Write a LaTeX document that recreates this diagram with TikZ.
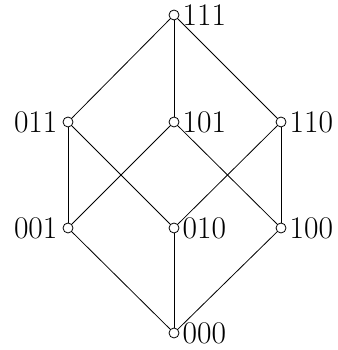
\documentclass[tikz,border=0pt]{standalone}
\begin{document}
\begin{tikzpicture}[x=1pt,y=1pt,
  v/.style={circle,draw,fill=white,inner sep=0pt,minimum size=10pt,line width=0.8pt},
  lab/.style={font=\fontsize{31.5}{36}\selectfont,inner sep=2pt},
  every label/.style={lab},
  label distance=1pt,
  edge/.style={line width=0.8pt}]
\useasboundingbox (0,0) rectangle (337,350);
\node[v,label={right:111}] (n111) at (174,335) {};
\node[v,label={[label distance=3pt]left:011}] (n011) at (68,228) {};
\node[v,label={right:101}] (n101) at (174,228) {};
\node[v,label={right:110}] (n110) at (281,228) {};
\node[v,label={[label distance=3pt]left:001}] (n001) at (68,122) {};
\node[v,label={right:010}] (n010) at (174,122) {};
\node[v,label={right:100}] (n100) at (281,122) {};
\node[v,label={right:000}] (n000) at (174,17) {};
\draw[edge] (n111) -- (n011);
\draw[edge] (n111) -- (n101);
\draw[edge] (n111) -- (n110);
\draw[edge] (n011) -- (n001);
\draw[edge] (n011) -- (n010);
\draw[edge] (n101) -- (n001);
\draw[edge] (n101) -- (n100);
\draw[edge] (n110) -- (n010);
\draw[edge] (n110) -- (n100);
\draw[edge] (n001) -- (n000);
\draw[edge] (n010) -- (n000);
\draw[edge] (n100) -- (n000);
\end{tikzpicture}
\end{document}
